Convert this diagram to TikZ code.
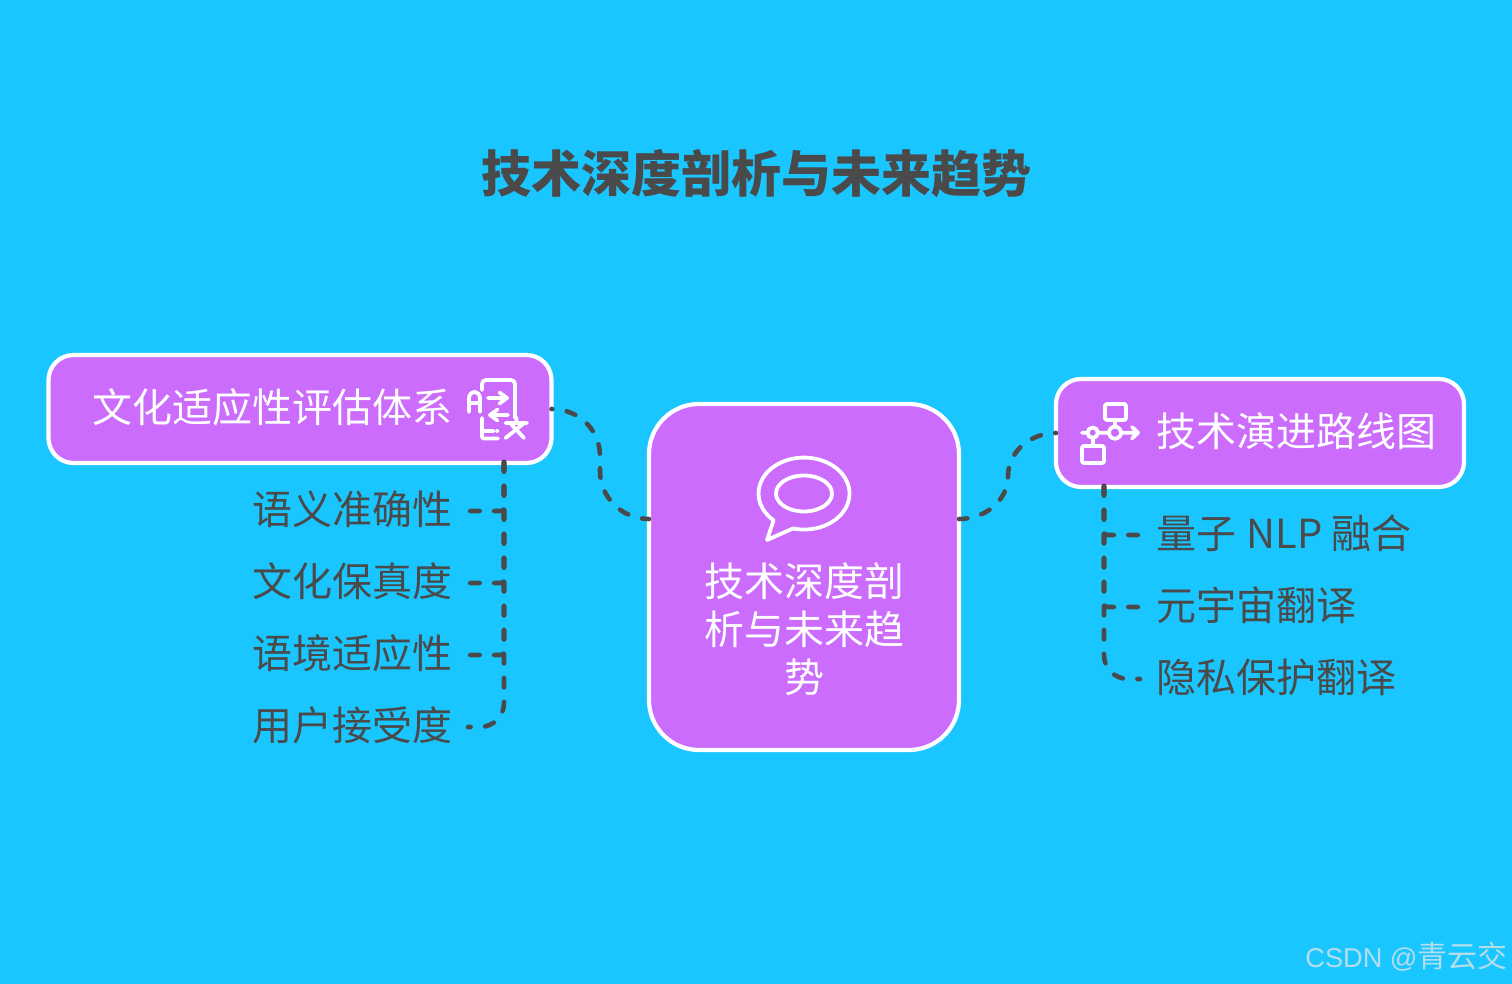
\documentclass[tikz,border=0pt]{standalone}
\usepackage{fontspec}
\setmainfont{Noto Sans CJK SC}
\newfontfamily\markfont{Liberation Sans}
\definecolor{skybg}{HTML}{1AC6FF}
\definecolor{boxfill}{HTML}{CB6CFC}
\definecolor{inktext}{HTML}{4A4A4A}
\definecolor{marktext}{HTML}{B4DDEC}
\newcommand{\BoxFont}{\fontsize{20}{24}\selectfont}
\tikzset{
  topicbox/.style={draw=white,line width=2.1pt,fill=boxfill,outer sep=0pt,inner sep=0pt},
  boxtext/.style={text=white,font=\BoxFont,align=center},
  leaf/.style={text=inktext,font=\BoxFont,inner ysep=0pt,outer sep=0pt},
  link/.style={draw=inktext,line width=2.3pt,line cap=round,line join=round,dash pattern=on 4.7pt off 7.3pt},
  iconline/.style={draw=white,line width=1.9pt,line cap=round,line join=round}
}
\begin{document}
\begin{tikzpicture}[x=0.5pt,y=-0.5pt]
\fill[skybg] (0,0) rectangle (1512,984);
\useasboundingbox (0,0) rectangle (1512,984);

\node (title) at (756,174) {\fontsize{25}{30}\selectfont\bfseries\color{inktext}技术深度剖析与未来趋势};

\node[topicbox,rounded corners=25pt,minimum width=155pt,minimum height=173pt] (center) at (804,577) {};
\node[topicbox,rounded corners=12.5pt,minimum width=251.5pt,minimum height=54pt] (culture) at (300,409) {};
\node[topicbox,rounded corners=12.5pt,minimum width=204pt,minimum height=54pt] (roadmap) at (1260,433) {};

\node[boxtext] (centerlabel) at (804,629) {技术深度剖\\析与未来趋\\势};
\node[boxtext,anchor=west,inner xsep=0pt] (culturelabel) at (92,407) {文化适应性评估体系};
\node[boxtext,anchor=west,inner xsep=0pt] (roadmaplabel) at (1156,431) {技术演进路线图};

\node[leaf,anchor=east,inner xsep=8pt] (c1) at (468,509) {语义准确性};
\node[leaf,anchor=east,inner xsep=8pt] (c2) at (468,581) {文化保真度};
\node[leaf,anchor=east,inner xsep=8pt] (c3) at (468,653) {语境适应性};
\node[leaf,anchor=east,inner xsep=8pt] (c4) at (468,725) {用户接受度};
\node[leaf,anchor=west,inner xsep=8pt] (r1) at (1140,533) {量子\hspace{1pt} NLP 融合};
\node[leaf,anchor=west,inner xsep=8pt] (r2) at (1140,605) {元宇宙翻译};
\node[leaf,anchor=west,inner xsep=8pt] (r3) at (1140,677) {隐私保护翻译};

\coordinate (ctrunk) at (504,462);
\coordinate (rtrunk) at (1104,486);
\coordinate (cwest) at (649,519);
\coordinate (ceast) at (959,519);

\path[link,dash phase=1.25pt] (cwest) .. controls (622,519) and (600,497.5) .. (600,471) -- (600,456) .. controls (600,429.5) and (578.5,409) .. (culture.east);
\path[link,dash phase=0.5pt] (ceast) .. controls (986,519) and (1008,500) .. (1008,476) .. controls (1008,452) and (1030,433) .. (roadmap.west);

\draw[link,rounded corners=1.5pt] (ctrunk) |- ([yshift=-1pt]c1.east);
\draw[link,rounded corners=1.5pt] (ctrunk) |- ([yshift=-1pt]c2.east);
\draw[link,rounded corners=1.5pt] (ctrunk) |- ([yshift=-1pt]c3.east);
\draw[link,rounded corners=12pt] (ctrunk) |- ([yshift=-1pt]c4.east);
\draw[link,rounded corners=1.5pt] (rtrunk) |- ([yshift=-1pt]r1.west);
\draw[link,rounded corners=1.5pt] (rtrunk) |- ([yshift=-1pt]r2.west);
\draw[link,rounded corners=12pt] (rtrunk) |- ([yshift=-1pt]r3.west);

% speech bubble
\draw[iconline] (793,528.5) arc [start angle=256,end angle=588,x radius=22.75pt,y radius=18pt] -- (767,540) -- cycle;
\draw[iconline] (804,493.5) ellipse [x radius=14pt,y radius=9pt];

% translate sign
\draw[iconline,rounded corners=2pt] (482,390) -- (482,380) -- (515,380) -- (515,418);
\draw[iconline,rounded corners=1pt] (482,418) -- (482,438.5) -- (498,438.5);
\draw[iconline] (483,431) -- (493,431) (497,431) -- (497.2,431);
\draw[iconline,rounded corners=3pt] (469,412) -- (469,392) -- (480,392) -- (480,412);
\draw[iconline] (469,403) -- (480,403);
\draw[iconline] (488,398) -- (507,398) (499.5,392.5) -- (507,398) -- (499.5,403.5);
\draw[iconline] (508,415) -- (490,415) (497.5,409.5) -- (490,415) -- (497.5,420.5);
\draw[iconline] (516.5,417.5) -- (516.5,422) (505.5,423) -- (527,423) (511,424) -- (524,438) (523,424) -- (505.5,438);

% network
\draw[iconline,rounded corners=1pt] (1105,404) rectangle (1126,420);
\draw[iconline,rounded corners=1pt] (1082,446) rectangle (1104,463);
\draw[iconline] (1092.7,432.7) circle (2.6pt) (1115,432.7) circle (3pt);
\draw[iconline] (1082,432.7) -- (1087.5,432.7) (1098,432.7) -- (1109,432.7) (1121,432.7) -- (1138,432.7) (1132,427) -- (1138,432.7) -- (1132,438.5);
\draw[iconline] (1092.7,438) -- (1092.7,446) (1115,420) -- (1115,427);

\node[anchor=base east,inner sep=0pt,text=marktext] (mark) at (1508,967) {{\markfont\fontsize{13.6}{16}\selectfont CSDN @}\fontsize{15}{18}\selectfont 青云交};
\end{tikzpicture}
\end{document}
